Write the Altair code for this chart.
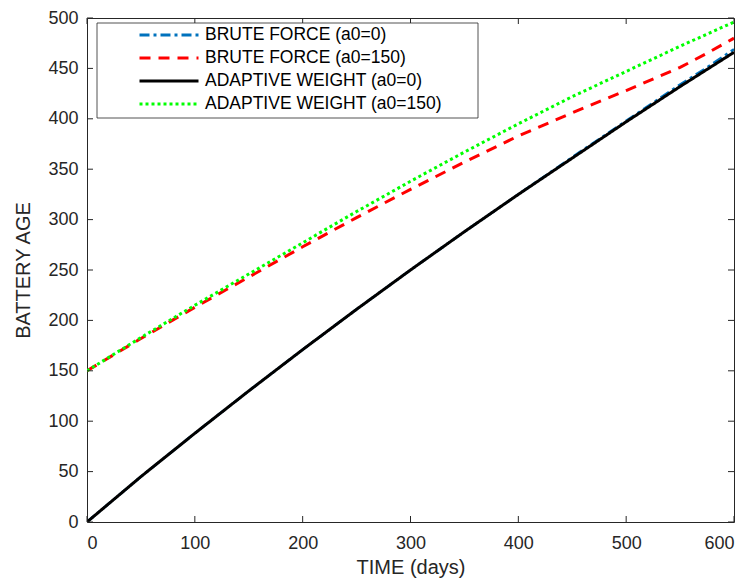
import altair as alt
import pandas as pd

days = [0, 50, 100, 150, 200, 250, 300, 350, 400, 450, 500, 550, 575, 600]
bf0 = [0, 45, 88, 130, 171, 211, 250, 288, 325, 362, 398, 434, 451, 469]
bf150 = [150, 182, 213, 243, 273, 302, 330, 357, 383, 406, 428, 451, 465, 480]
aw0 = [0, 45, 88, 130, 171, 211, 250, 288, 325, 361, 397, 432, 449, 466]
aw150 = [150, 183, 215, 246, 277, 308, 338, 367, 395, 422, 447, 472, 484, 496]

series_names = ["BRUTE FORCE (a0=0)", "BRUTE FORCE (a0=150)",
                "ADAPTIVE WEIGHT (a0=0)", "ADAPTIVE WEIGHT (a0=150)"]
x_ticks = [0, 100, 200, 300, 400, 500, 600]
y_ticks = [0, 50, 100, 150, 200, 250, 300, 350, 400, 450, 500]

rows = []
for name, vals in zip(series_names, [bf0, bf150, aw0, aw150]):
    for d, v in zip(days, vals):
        rows.append({"day": d, "age": v, "series": name})
df = pd.DataFrame(rows)

W, H = 647, 504
FONT = "Liberation Sans"
AX = "#262626"
colors = ["#0072BD", "#FF0000", "#000000", "#00FF00"]
dashes = [[10, 4, 3, 4], [11, 8], [1, 0], [3, 3]]
widths = [2.5, 3, 3, 3]

xs = alt.X("day:Q", scale=alt.Scale(domain=[0, 600], nice=False, zero=False),
           axis=alt.Axis(values=x_ticks, title="TIME (days)", ticks=False, domain=False,
                         grid=False, labelPadding=12, titlePadding=5, format="d"))
ys = alt.Y("age:Q", scale=alt.Scale(domain=[0, 500], nice=False, zero=False),
           axis=alt.Axis(values=y_ticks, title="BATTERY AGE", ticks=False, domain=False,
                         grid=False, labelPadding=9, titlePadding=14, format="d"))
color = alt.Color("series:N", scale=alt.Scale(domain=series_names, range=colors),
                  legend=alt.Legend(title=None))
dash = alt.StrokeDash("series:N", scale=alt.Scale(domain=series_names, range=dashes),
                      legend=alt.Legend(title=None))

lines = []
for n, w in zip(series_names, widths):
    lines.append(
        alt.Chart(df).transform_filter(alt.datum.series == n)
        .mark_line(strokeWidth=w, clip=True)
        .encode(x=xs, y=ys, color=color, strokeDash=dash)
    )

xt = pd.DataFrame({"day": x_ticks})
yt = pd.DataFrame({"age": y_ticks})
tick_style = dict(color=AX, strokeWidth=1)
ticks = [
    alt.Chart(xt).mark_rule(**tick_style).encode(x=xs, y=alt.value(0), y2=alt.value(6)),
    alt.Chart(xt).mark_rule(**tick_style).encode(x=xs, y=alt.value(H), y2=alt.value(H - 6)),
    alt.Chart(yt).mark_rule(**tick_style).encode(y=ys, x=alt.value(0), x2=alt.value(6)),
    alt.Chart(yt).mark_rule(**tick_style).encode(y=ys, x=alt.value(W), x2=alt.value(W - 6)),
]

box = alt.Chart(pd.DataFrame({"k": [0]})).mark_rect(
    fill="white", stroke=AX, strokeWidth=0.8
).encode(x=alt.value(10), x2=alt.value(391), y=alt.value(5), y2=alt.value(100))

chart = alt.layer(*lines, *ticks, box).properties(
    width=W, height=H,
    padding={"left": 79, "top": 10, "right": 8, "bottom": 56},
    autosize=alt.AutoSizeParams(type="none"),
).configure_view(
    stroke=AX, strokeWidth=1
).configure_axis(
    labelFont=FONT, labelFontSize=18, labelColor=AX,
    titleFont=FONT, titleFontSize=20, titleFontWeight="normal", titleColor=AX,
).configure_legend(
    orient="none", legendX=51, legendY=7.5, padding=0,
    labelFont=FONT, labelFontSize=17.5, labelColor="#000000", labelLimit=0,
    symbolType="stroke", symbolSize=3481, symbolStrokeWidth=3,
    labelOffset=5, rowPadding=4, clipHeight=19,
)

chart.save("out.html", embed_options={"renderer": "svg", "actions": False})
